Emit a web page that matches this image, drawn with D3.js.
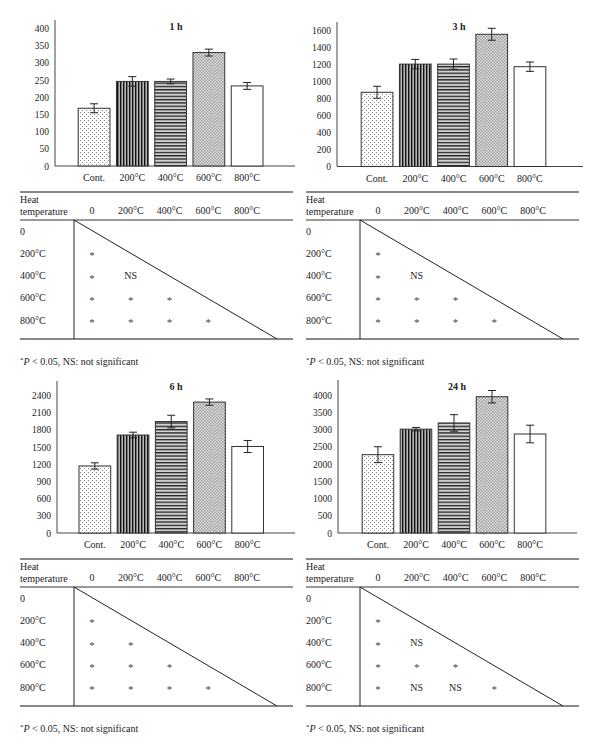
<!DOCTYPE html>
<html><head><meta charset="utf-8">
<script src="https://cdn.jsdelivr.net/npm/d3@7"></script>
<style>
body{margin:0;background:#fff;}
text{font-family:"Liberation Serif","Times New Roman",serif;fill:#222;}
</style></head>
<body><svg id="c" width="600" height="755"></svg>
<script>
// ---- data ----
const categories = ["Cont.", "200°C", "400°C", "600°C", "800°C"];
const mean1h = [168, 246, 246, 330, 233];
const err1h  = [13, 14, 7, 10, 10];
const mean3h = [870, 1200, 1200, 1550, 1170];
const err3h  = [70, 55, 60, 70, 55];
const mean6h = [1170, 1710, 1945, 2285, 1510];
const err6h  = [55, 50, 110, 55, 105];
const mean24h = [2270, 3010, 3190, 3950, 2870];
const err24h  = [230, 50, 240, 180, 255];
const ticks1h = [0, 50, 100, 150, 200, 250, 300, 350, 400];
const ticks3h = [0, 200, 400, 600, 800, 1000, 1200, 1400, 1600];
const ticks6h = [0, 300, 600, 900, 1200, 1500, 1800, 2100, 2400];
const ticks24h = [0, 500, 1000, 1500, 2000, 2500, 3000, 3500, 4000];
const titles = ["1 h", "3 h", "6 h", "24 h"];
const tableCols = ["0", "200°C", "400°C", "600°C", "800°C"];
const tableRows = ["0", "200°C", "400°C", "600°C", "800°C"];
const sig1h = [[], ["*"], ["*", "NS"], ["*", "*", "*"], ["*", "*", "*", "*"]];
const sig3h = [[], ["*"], ["*", "NS"], ["*", "*", "*"], ["*", "*", "*", "*"]];
const sig6h = [[], ["*"], ["*", "*"], ["*", "*", "*"], ["*", "*", "*", "*"]];
const sig24h = [[], ["*"], ["*", "NS"], ["*", "*", "*"], ["*", "NS", "NS", "*"]];

const svg = d3.select("#c");
const defs = svg.append("defs");
// patterns
const pDots = defs.append("pattern").attr("id","pDots").attr("width",4).attr("height",4).attr("patternUnits","userSpaceOnUse");
pDots.append("rect").attr("width",4).attr("height",4).attr("fill","#fff");
pDots.append("rect").attr("x",0).attr("y",0).attr("width",1).attr("height",1).attr("fill","#888");
pDots.append("rect").attr("x",2).attr("y",2).attr("width",1).attr("height",1).attr("fill","#888");
const pV = defs.append("pattern").attr("id","pV").attr("width",3).attr("height",3).attr("patternUnits","userSpaceOnUse");
pV.append("rect").attr("width",3).attr("height",3).attr("fill","#b8b8b8");
pV.append("rect").attr("width",1.4).attr("height",3).attr("fill","#111");
const pH = defs.append("pattern").attr("id","pH").attr("width",3.3).attr("height",3.3).attr("patternUnits","userSpaceOnUse");
pH.append("rect").attr("width",3.3).attr("height",3.3).attr("fill","#d0d0d0");
pH.append("rect").attr("width",3.3).attr("height",1.3).attr("fill","#222");
const pC = defs.append("pattern").attr("id","pC").attr("width",3).attr("height",3).attr("patternUnits","userSpaceOnUse");
pC.append("rect").attr("width",3).attr("height",3).attr("fill","#e4e4e4");
pC.append("rect").attr("width",1.5).attr("height",1.5).attr("fill","#9a9a9a");
pC.append("rect").attr("x",1.5).attr("y",1.5).attr("width",1.5).attr("height",1.5).attr("fill","#9a9a9a");
const fills = ["url(#pDots)", "url(#pV)", "url(#pH)", "url(#pC)", "#fff"];

function drawChart(o) {
  const g = svg.append("g");
  const y = d3.scaleLinear().domain([0, o.ticks[o.ticks.length-1]]).range([o.y0, o.yMax]);
  const x = d3.scaleBand().domain(categories).range([o.r0, o.r1]).paddingInner(0.17).paddingOuter(0.17);
  // axes
  g.append("line").attr("x1",o.ax).attr("x2",o.ax).attr("y1",o.y0).attr("y2",o.yTop).attr("stroke","#444");
  g.append("line").attr("x1",o.ax).attr("x2",o.axEnd).attr("y1",o.y0).attr("y2",o.y0).attr("stroke","#444");
  const ya = g.append("g").attr("transform",`translate(${o.ax},0)`)
    .call(d3.axisLeft(y).tickValues(o.ticks).tickFormat(d3.format("d")).tickSize(0).tickPadding(6));
  ya.select(".domain").remove();
  ya.selectAll("text").attr("font-size",9.5).attr("font-family","Liberation Serif").attr("fill","#222");
  const xa = g.append("g").attr("transform",`translate(0,${o.y0})`)
    .call(d3.axisBottom(x).tickSize(0).tickPadding(8));
  xa.select(".domain").remove();
  xa.selectAll("text").attr("font-size",10).attr("font-family","Liberation Serif").attr("fill","#222");
  // bars
  g.selectAll("rect.bar").data(o.means).join("rect").attr("class","bar")
    .attr("x",(d,i)=>x(categories[i])).attr("width",x.bandwidth())
    .attr("y",d=>y(d)).attr("height",d=>o.y0-y(d))
    .attr("fill",(d,i)=>fills[i]).attr("stroke","#333").attr("stroke-width",1);
  // error bars
  const eb = g.selectAll("g.eb").data(o.means).join("g").attr("class","eb");
  const cx = (i)=>x(categories[i]) + x.bandwidth()/2;
  eb.append("line").attr("x1",(d,i)=>cx(i)).attr("x2",(d,i)=>cx(i))
    .attr("y1",(d,i)=>y(d+o.errs[i])).attr("y2",(d,i)=>y(d-o.errs[i])).attr("stroke","#222");
  eb.append("line").attr("x1",(d,i)=>cx(i)-4).attr("x2",(d,i)=>cx(i)+4)
    .attr("y1",(d,i)=>y(d+o.errs[i])).attr("y2",(d,i)=>y(d+o.errs[i])).attr("stroke","#222");
  eb.append("line").attr("x1",(d,i)=>cx(i)-4).attr("x2",(d,i)=>cx(i)+4)
    .attr("y1",(d,i)=>y(d-o.errs[i])).attr("y2",(d,i)=>y(d-o.errs[i])).attr("stroke","#222");
  // title
  g.append("text").attr("x",o.tx).attr("y",o.ty).attr("text-anchor","middle").attr("font-size",10)
    .attr("font-weight","bold").text(o.title);
}

function drawTable(o) {
  const g = svg.append("g").attr("transform",`translate(${o.x},${o.y})`);
  const W = 273;
  const cx = d3.scalePoint().domain(tableCols).range([72, 227]);
  const ry = d3.scalePoint().domain(tableRows).range([39, 128]);
  g.append("line").attr("x1",0).attr("x2",W).attr("y1",0).attr("y2",0).attr("stroke","#888").attr("stroke-width",2);
  g.append("line").attr("x1",0).attr("x2",W).attr("y1",28).attr("y2",28).attr("stroke","#777").attr("stroke-width",1.5);
  g.append("line").attr("x1",0).attr("x2",W).attr("y1",147).attr("y2",147).attr("stroke","#888").attr("stroke-width",2);
  g.append("line").attr("x1",54).attr("x2",54).attr("y1",28).attr("y2",147).attr("stroke","#222");
  g.append("line").attr("x1",54).attr("x2",257).attr("y1",28).attr("y2",147).attr("stroke","#222");
  g.append("text").attr("x",0).attr("y",11).attr("font-size",10).text("Heat");
  g.append("text").attr("x",0).attr("y",23).attr("font-size",10).text("temperature");
  g.selectAll("text.ch").data(tableCols).join("text").attr("class","ch")
    .attr("x",d=>cx(d)).attr("y",22).attr("text-anchor","middle").attr("font-size",10).text(d=>d);
  g.selectAll("text.rh").data(tableRows).join("text").attr("class","rh")
    .attr("x",0).attr("y",d=>ry(d)+3.5).attr("font-size",10).text(d=>d);
  o.sig.forEach((row, ri) => {
    row.forEach((s, ci) => {
      g.append("text").attr("x",cx(tableCols[ci])).attr("y",ry(tableRows[ri]) + (s==="*"?6:3.5))
        .attr("text-anchor","middle").attr("font-size",s==="*"?11:10)
        .style("fill", s==="*"?"#444":"#222").text(s);
    });
  });
  const f = g.append("text").attr("x",0).attr("y",173).attr("font-size",10);
  f.append("tspan").attr("font-size",7).attr("dy",-3).text("*");
  f.append("tspan").attr("font-style","italic").attr("dy",3).text("P");
  f.append("tspan").text(" < 0.05, NS: not significant");
}

drawChart({means:mean1h, errs:err1h, ticks:ticks1h, title:titles[0], ax:55, axEnd:295, y0:166, yMax:28.5, yTop:20, r0:71.7, r1:269.5, tx:176, ty:30});
drawChart({means:mean3h, errs:err3h, ticks:ticks3h, title:titles[1], ax:337, axEnd:583, y0:166.5, yMax:30, yTop:22, r0:354.7, r1:552.3, tx:459, ty:30});
drawChart({means:mean6h, errs:err6h, ticks:ticks6h, title:titles[2], ax:57, axEnd:295, y0:533, yMax:395.5, yTop:381, r0:72.5, r1:270, tx:176, ty:390});
drawChart({means:mean24h, errs:err24h, ticks:ticks24h, title:titles[3], ax:338, axEnd:577, y0:533, yMax:395, yTop:380, r0:355.7, r1:552.3, tx:457, ty:390});

drawTable({x:20, y:192, sig:sig1h});
drawTable({x:306, y:192, sig:sig3h});
drawTable({x:20, y:559, sig:sig6h});
drawTable({x:306, y:559, sig:sig24h});
</script></body></html>
